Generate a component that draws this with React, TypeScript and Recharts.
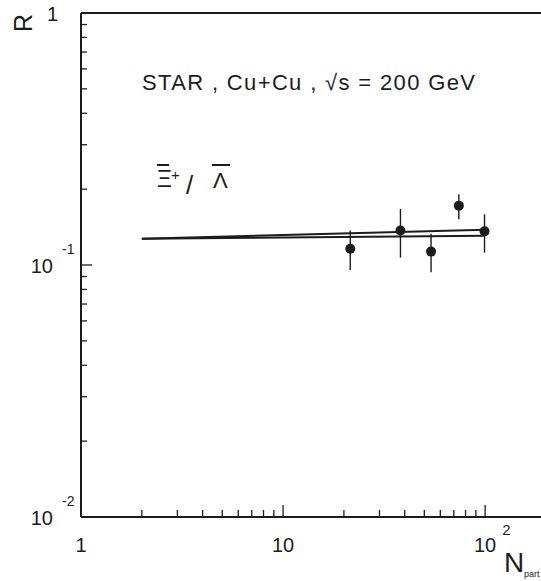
import React from 'react';
import { ComposedChart, XAxis, YAxis, Line, Scatter, ErrorBar, ReferenceLine } from 'recharts';

// Xi-bar+ / Lambda-bar ratio vs N_part, STAR Cu+Cu 200 GeV
const nPart = [21.5, 38.1, 54.0, 74.1, 99.3];
const ratio = [0.116, 0.137, 0.113, 0.172, 0.136];
const ratioLow = [0.0955, 0.107, 0.0935, 0.152, 0.112];
const ratioHigh = [0.137, 0.167, 0.133, 0.191, 0.159];

// two model curves
const fitX = [2, 100];
const fitUpper = [0.127, 0.138];
const fitLower = [0.127, 0.1306];

const xTicks = [1, 2, 3, 4, 5, 6, 7, 8, 9, 10, 20, 30, 40, 50, 60, 70, 80, 90, 100];
const yTicks = [
  0.01, 0.02, 0.03, 0.04, 0.05, 0.06, 0.07, 0.08, 0.09,
  0.1, 0.2, 0.3, 0.4, 0.5, 0.6, 0.7, 0.8, 0.9, 1,
];
const xMajor = [1, 10, 100];
const yMajor = [0.01, 0.1, 1];

const points = nPart.map((x, i) => ({
  x,
  y: ratio[i],
  err: [ratio[i] - ratioLow[i], ratioHigh[i] - ratio[i]],
}));
const upperLine = fitX.map((x, i) => ({ x, y: fitUpper[i] }));
const lowerLine = fitX.map((x, i) => ({ x, y: fitLower[i] }));

const INK = '#1c1c1c';
const FONT = '"Liberation Sans", Arial, sans-serif';

const isIn = (v: number, list: number[]) => list.some((m) => Math.abs(m - v) < 1e-9);

const XTick = (props: any) => {
  const { x, y, payload } = props;
  const v = payload.value;
  const major = isIn(v, xMajor);
  return (
    <g>
      <line x1={x} x2={x} y1={y} y2={y - (major ? 12 : 7)} stroke={INK} strokeWidth={1.3} />
      {major && (
        <text x={x} y={y + 35} textAnchor="middle" fontSize={20} fontFamily={FONT} fill={INK}>
          {v === 1 ? '1' : '10'}
        </text>
      )}
      {v === 100 && (
        <text x={x + 17} y={y + 18} fontSize={15} fontFamily={FONT} fill={INK}>2</text>
      )}
    </g>
  );
};

const YTick = (props: any) => {
  const { x, y, payload } = props;
  const v = payload.value;
  const major = isIn(v, yMajor);
  const showTick = v !== 1;
  return (
    <g>
      {showTick && (
        <line x1={x} x2={x + (major ? 11 : 6)} y1={y} y2={y} stroke={INK} strokeWidth={1.3} />
      )}
      {v === 1 && (
        <text x={x - 23} y={y + 8} textAnchor="end" fontSize={20} fontFamily={FONT} fill={INK}>1</text>
      )}
      {(v === 0.1 || v === 0.01) && (
        <>
          <text x={x - 28} y={y + 8} textAnchor="end" fontSize={20} fontFamily={FONT} fill={INK}>10</text>
          <text x={x - 19} y={y - 11} fontSize={14} fontFamily={FONT} fill={INK}>
            {v === 0.1 ? '-1' : '-2'}
          </text>
        </>
      )}
    </g>
  );
};

const Dot = (props: any) => <circle cx={props.cx} cy={props.cy} r={5} fill={INK} />;

const App: React.FC = () => (
  <div style={{ position: 'absolute', left: 0, top: 0, width: 541, height: 581, background: '#fff' }}>
    <ComposedChart width={541} height={581} margin={{ top: 13, right: 0, bottom: 0, left: 0 }}>
      <XAxis
        dataKey="x"
        type="number"
        scale="log"
        domain={[1, 189]}
        allowDataOverflow
        ticks={xTicks}
        interval={0}
        height={64}
        tickSize={0}
        tickMargin={0}
        tick={<XTick />}
        axisLine={{ stroke: INK, strokeWidth: 2 }}
      />
      <YAxis
        dataKey="y"
        type="number"
        scale="log"
        domain={[0.01, 1]}
        allowDataOverflow
        ticks={yTicks}
        interval={0}
        width={81}
        tickSize={0}
        tickMargin={0}
        tick={<YTick />}
        axisLine={{ stroke: INK, strokeWidth: 2 }}
      />
      <ReferenceLine y={1} stroke={INK} strokeWidth={2} ifOverflow="visible" />
      <Line data={upperLine} dataKey="y" stroke={INK} strokeWidth={2} dot={false} isAnimationActive={false} />
      <Line data={lowerLine} dataKey="y" stroke={INK} strokeWidth={2} dot={false} isAnimationActive={false} />
      <Scatter data={points} dataKey="y" shape={<Dot />} isAnimationActive={false}>
        <ErrorBar dataKey="err" direction="y" width={0} stroke={INK} strokeWidth={1.4} isAnimationActive={false} />
      </Scatter>
    </ComposedChart>
    <svg
      width={541}
      height={581}
      style={{ position: 'absolute', left: 0, top: 0, pointerEvents: 'none' }}
      fontFamily={FONT}
      fill={INK}
    >
      <text x={0} y={0} transform="translate(32,32) rotate(-90)" fontSize={25}>R</text>
      <text x={142} y={90} fontSize={22} textLength={333} lengthAdjust="spacing">
        STAR , Cu+Cu , √s = 200 GeV
      </text>
      <text x={157} y={187} fontSize={23}>Ξ</text>
      <line x1={157} x2={169} y1={165} y2={165} stroke={INK} strokeWidth={2} />
      <text x={171} y={180} fontSize={15}>+</text>
      <text x={186} y={194} fontSize={26}>/</text>
      <text x={213} y={188} fontSize={22}>Λ</text>
      <line x1={212} x2={230} y1={165} y2={165} stroke={INK} strokeWidth={2} />
      <text x={504} y={572} fontSize={28}>N</text>
      <text x={524} y={577} fontSize={9}>part</text>
    </svg>
  </div>
);

export default App;
